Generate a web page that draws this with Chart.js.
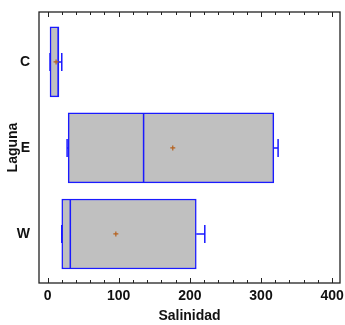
<!DOCTYPE html>
<html>
<head>
<meta charset="utf-8">
<script src="https://cdn.jsdelivr.net/npm/chart.js@4"></script>
<style>
  body { margin: 0; background: #fff; }
  #wrap { width: 345px; height: 325px; }
</style>
</head>
<body>
<div id="wrap"><canvas id="myChart"></canvas></div>
<script>
// datos
const lagunas = ['C', 'E', 'W'];
const minimos = [3.5, 27.5, 20];
const q1 = [3.5, 29, 20];
const medianas = [15, 135, 32];
const q3 = [16, 318, 209];
const maximos = [20, 324, 221];
const medias = [12, 176, 96];
const xTicks = [0, 100, 200, 300, 400];

const azul = '#1a1aff';

// dibuja bigotes, medianas, medias y el marco
const boxPlugin = {
  id: 'boxExtras',
  afterDatasetsDraw(chart) {
    const ctx = chart.ctx;
    const xs = chart.scales.x, ys = chart.scales.y;
    const a = chart.chartArea;
    ctx.save();
    for (let i = 0; i < lagunas.length; i++) {
      let yc = ys.getPixelForValue(i);
      let xq1 = xs.getPixelForValue(q1[i]);
      let xq3 = xs.getPixelForValue(q3[i]);
      let xmin = xs.getPixelForValue(minimos[i]);
      let xmax = xs.getPixelForValue(maximos[i]);
      let xmed = xs.getPixelForValue(medianas[i]);
      ctx.strokeStyle = azul;
      ctx.lineWidth = 1.5;
      ctx.beginPath();
      // bigote derecho
      ctx.moveTo(xq3, yc); ctx.lineTo(xmax, yc);
      ctx.moveTo(xmax, yc - 9); ctx.lineTo(xmax, yc + 9);
      // bigote izquierdo
      ctx.moveTo(xq1, yc); ctx.lineTo(xmin, yc);
      ctx.moveTo(xmin, yc - 9); ctx.lineTo(xmin, yc + 9);
      // mediana
      ctx.moveTo(xmed, yc - 35); ctx.lineTo(xmed, yc + 35);
      ctx.stroke();
      // media
      let xm = xs.getPixelForValue(medias[i]);
      ctx.strokeStyle = '#b5601c';
      ctx.lineWidth = 1.2;
      ctx.beginPath();
      ctx.moveTo(xm - 2.5, yc); ctx.lineTo(xm + 2.5, yc);
      ctx.moveTo(xm, yc - 2.5); ctx.lineTo(xm, yc + 2.5);
      ctx.stroke();
    }
    // marco
    ctx.strokeStyle = '#222';
    ctx.lineWidth = 1.3;
    ctx.strokeRect(a.left, a.top, a.right - a.left, a.bottom - a.top);
    // marcas hacia dentro, arriba y abajo
    ctx.lineWidth = 1;
    ctx.beginPath();
    for (let v = 0; v <= 400; v += 20) {
      let px = Math.round(xs.getPixelForValue(v)) + 0.5;
      let len = xTicks.includes(v) ? 5 : 3;
      ctx.moveTo(px, a.bottom); ctx.lineTo(px, a.bottom - len);
      ctx.moveTo(px, a.top); ctx.lineTo(px, a.top + len);
    }
    ctx.stroke();
    ctx.restore();
  }
};

const fuente = { family: 'Liberation Sans, Arial, sans-serif', size: 14, weight: 'bold' };

let ctx = document.getElementById('myChart').getContext('2d');
let myChart = new Chart(ctx, {
  type: 'bar',
  data: {
    datasets: [{
      data: lagunas.map((l, i) => ({ y: i, x: [q1[i], q3[i]] })),
      backgroundColor: '#c0c0c0',
      borderColor: azul,
      borderWidth: 1.5,
      borderSkipped: false,
      barThickness: 70
    }]
  },
  options: {
    indexAxis: 'y',
    responsive: true,
    maintainAspectRatio: false,
    animation: false,
    layout: { padding: { top: 12, right: 5, left: 0, bottom: 0 } },
    plugins: { legend: { display: false }, tooltip: { enabled: false } },
    scales: {
      x: {
        type: 'linear',
        min: -12,
        max: 411,
        grid: { display: false, drawTicks: false },
        border: { display: false },
        afterBuildTicks: s => { s.ticks = xTicks.map(v => ({ value: v })); },
        ticks: { color: '#111', font: fuente, padding: 5 },
        title: { display: true, text: 'Salinidad', color: '#111', font: fuente, padding: { top: 2, bottom: 0 } },
        afterFit: s => { s.height = 42; s.paddingLeft = 0; s.paddingRight = 0; }
      },
      y: {
        type: 'linear',
        reverse: true,
        offset: false,
        min: -0.58,
        max: 2.57,
        grid: { display: false, drawTicks: false },
        border: { display: false },
        afterBuildTicks: s => { s.ticks = lagunas.map((l, i) => ({ value: i })); },
        ticks: { color: '#111', font: fuente, padding: 9, callback: v => lagunas[v] },
        title: { display: true, text: 'Laguna', color: '#111', font: fuente, padding: { top: 5, bottom: 0 } },
        afterFit: s => { s.width = 39; s.paddingTop = 0; s.paddingBottom = 0; }
      }
    }
  },
  plugins: [boxPlugin]
});
</script>
</body>
</html>
